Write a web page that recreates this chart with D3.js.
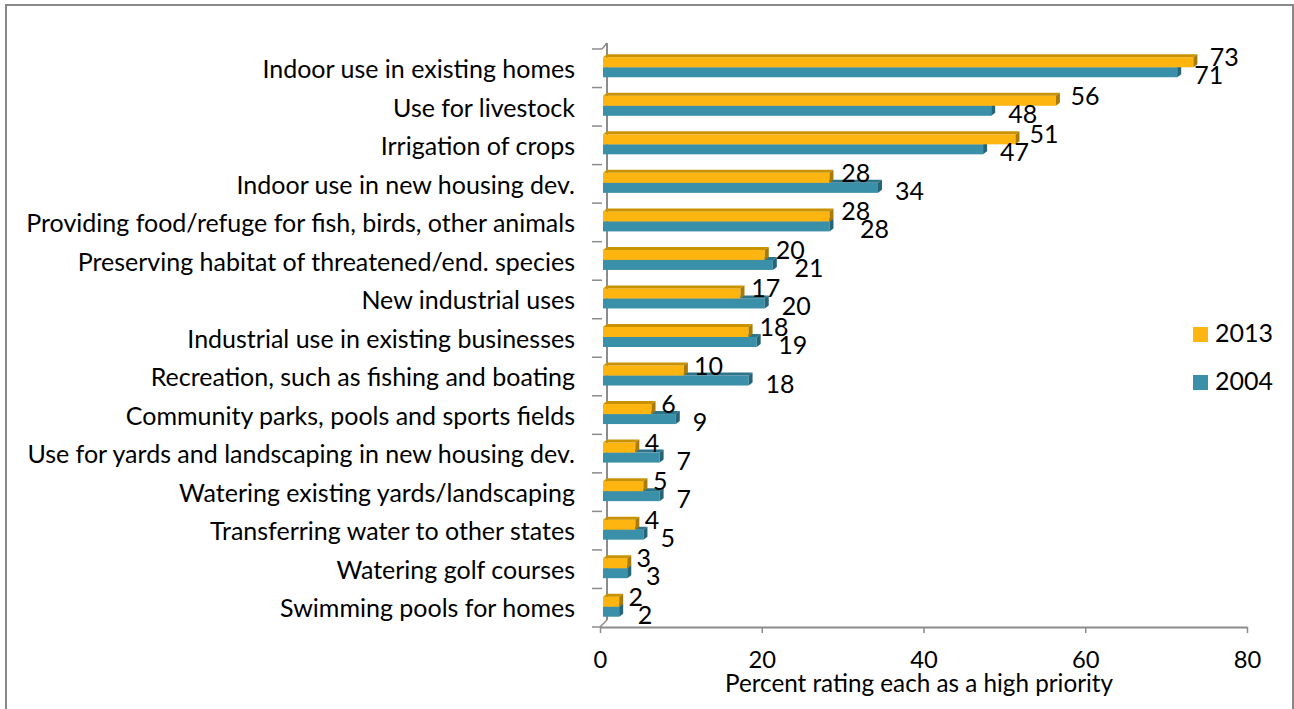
<!DOCTYPE html>
<html>
<head>
<meta charset="utf-8">
<script src="https://cdn.jsdelivr.net/npm/d3@7"></script>
<style>
  html, body { margin: 0; padding: 0; background: #fff; }
  svg { display: block; }
  text { font-family: Lato, "Open Sans", sans-serif; fill: #000; }
</style>
</head>
<body>
<svg id="chart" width="1294" height="709"></svg>
<script>
const categories = [
  "Indoor use in existing homes",
  "Use for livestock",
  "Irrigation of crops",
  "Indoor use in new housing dev.",
  "Providing food/refuge for fish, birds, other animals",
  "Preserving habitat of threatened/end. species",
  "New industrial uses",
  "Industrial use in existing businesses",
  "Recreation, such as fishing and boating",
  "Community parks, pools and sports fields",
  "Use for yards and landscaping in new housing dev.",
  "Watering existing yards/landscaping",
  "Transferring water to other states",
  "Watering golf courses",
  "Swimming pools for homes"
];
const values2013 = [73, 56, 51, 28, 28, 20, 17, 18, 10, 6, 4, 5, 4, 3, 2];
const values2004 = [71, 48, 47, 34, 28, 21, 20, 19, 18, 9, 7, 7, 5, 3, 2];
const seriesNames = ["2013", "2004"];
const xTicks = [0, 20, 40, 60, 80];
const xTitle = "Percent rating each as a high priority";

const svg = d3.select("#chart");

// fit font size to longest label width in reference
const probe = svg.append("text").attr("font-size", 20).text(categories[4]);
const pw = probe.node().getComputedTextLength();
probe.remove();
const FS = 20 * 549 / pw;

// frame
svg.append("rect").attr("x", 6).attr("y", 5).attr("width", 1287).attr("height", 730)
  .attr("fill", "none").attr("stroke", "#888").attr("stroke-width", 2);

const x = d3.scaleLinear().domain([0, 80]).range([600, 1247]);
const y = d3.scaleBand().domain(categories).range([49, 627]).padding(0);
const bw = y.bandwidth();
const DX = 4, DY = 3, OX = 3, BH = 10;
const gridCol = "#8c8c8c";

// vertical (category) axis in 3D style
const ax = svg.append("g");
ax.append("line").attr("x1", 607).attr("x2", 607).attr("y1", 43).attr("y2", 620)
  .attr("stroke", gridCol).attr("stroke-width", 2);
ax.append("line").attr("x1", 602).attr("y1", 49).attr("x2", 607).attr("y2", 43)
  .attr("stroke", gridCol).attr("stroke-width", 1.5);
ax.append("line").attr("x1", 607).attr("y1", 620).attr("x2", 600).attr("y2", 627)
  .attr("stroke", gridCol).attr("stroke-width", 1.5);
d3.range(categories.length + 1).forEach(i => {
  const yy = 49 + i * bw;
  ax.append("line").attr("x1", 592).attr("x2", 602).attr("y1", yy).attr("y2", yy)
    .attr("stroke", gridCol).attr("stroke-width", 1.5);
});

// x axis
const xAxis = d3.axisBottom(x).tickValues(xTicks).tickSize(6).tickSizeOuter(0);
const gx = svg.append("g").attr("transform", "translate(0,627)").call(xAxis);
gx.select(".domain").attr("stroke", gridCol).attr("stroke-width", 2);
gx.selectAll(".tick line").attr("stroke", gridCol).attr("stroke-width", 1.5);
gx.selectAll(".tick text").attr("y", 41).attr("dy", 0)
  .attr("font-size", FS * 0.95).attr("font-family", "Lato").attr("fill", "#000");

svg.append("text").attr("x", 919).attr("y", 692).attr("text-anchor", "middle")
  .attr("font-size", FS * 0.97).text(xTitle);

// category labels
svg.append("g").selectAll("text").data(categories).join("text")
  .attr("x", 575).attr("y", d => y(d) + bw / 2 + 9.7)
  .attr("text-anchor", "end").attr("font-size", FS).text(d => d);

// bars
const colors = {
  "2013": { front: "#FFB50F", top: "#C99200", side: "#A97B06" },
  "2004": { front: "#3A90A8", top: "#2C7489", side: "#256577" }
};

function drawBar(g, v, top, c) {
  const x0 = x(0) + OX, xe = x(v) + OX, bot = top + BH;
  g.append("rect").attr("x", x0).attr("y", top).attr("width", xe - x0).attr("height", BH)
    .attr("fill", c.front);
  g.append("polygon")
    .attr("points", [[x0, top], [x0 + DX, top - DY], [xe + DX, top - DY], [xe, top]].map(p => p.join(",")).join(" "))
    .attr("fill", c.top);
  g.append("polygon")
    .attr("points", [[xe, top], [xe + DX, top - DY], [xe + DX, bot - DY], [xe, bot]].map(p => p.join(",")).join(" "))
    .attr("fill", c.side);
}

const bars = svg.append("g");
categories.forEach((cat, i) => {
  const cy = y(cat) + bw / 2 - 1;
  const g = bars.append("g");
  drawBar(g, values2004[i], cy, colors["2004"]);
  drawBar(g, values2013[i], cy - BH, colors["2013"]);
});

// data labels (2004 label pushed right when it would collide with the 2013 one)
const labels = svg.append("g");
categories.forEach((cat, i) => {
  const c = y(cat) + bw / 2;
  const v13 = values2013[i], v04 = values2004[i];
  const x13 = x(v13) + 12 + 0.1 * v13;
  const t13 = labels.append("text").attr("x", x13).attr("y", c - 2)
    .attr("font-size", FS).text(v13);
  const w13 = t13.node().getComputedTextLength();
  let x04 = x(v04) + 20;
  if (x04 < x13 + w13 && x04 > x13 - w13 && v04 - v13 <= 1 && v04 - v13 >= 0) {
    x04 = Math.max(x04, x13 + w13 * 0.65);
  }
  labels.append("text").attr("x", x04).attr("y", c + 16)
    .attr("font-size", FS).text(v04);
});

// legend
const leg = svg.append("g");
seriesNames.forEach((s, i) => {
  const yy = 327 + i * 48;
  leg.append("rect").attr("x", 1193).attr("y", yy).attr("width", 15).attr("height", 15)
    .attr("fill", colors[s].front);
  leg.append("text").attr("x", 1215).attr("y", yy + 15).attr("font-size", FS).text(s);
});
</script>
</body>
</html>
